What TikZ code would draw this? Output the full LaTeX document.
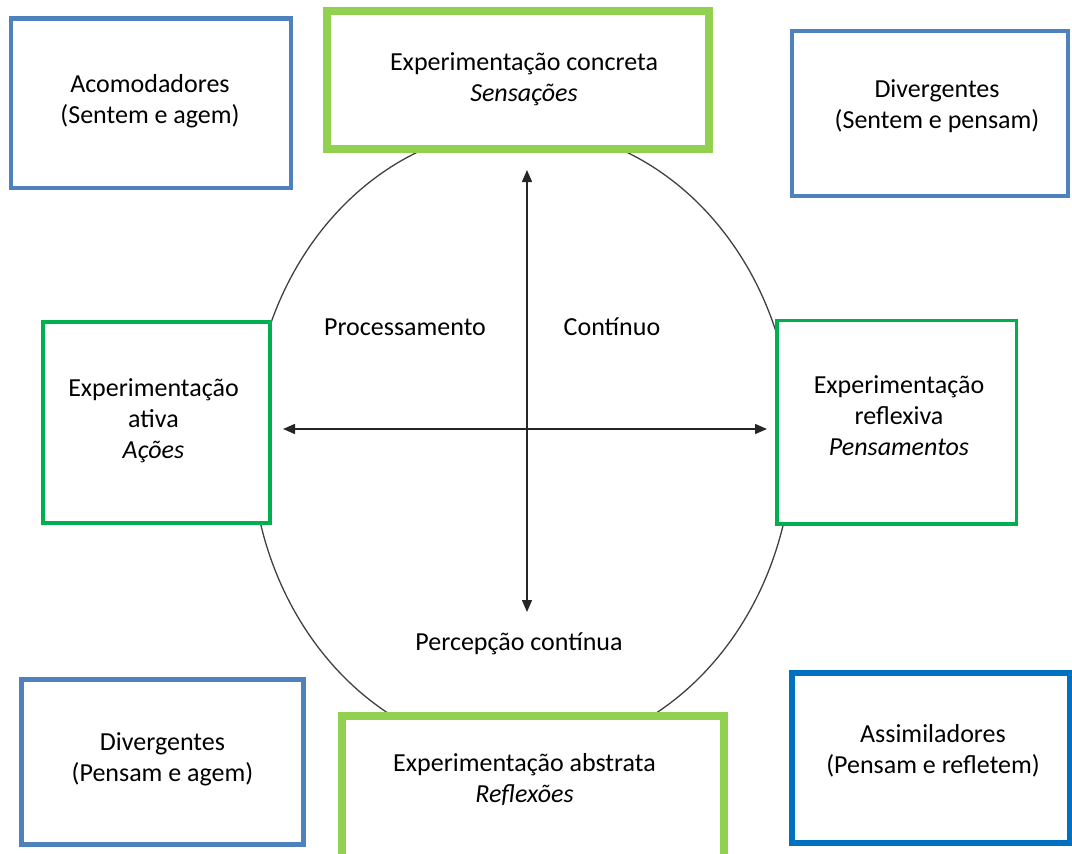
\documentclass[tikz,border=0pt]{standalone}
\usepackage{fontspec}
\setmainfont{Carlito}
\usetikzlibrary{arrows.meta}
\definecolor{boxblue}{HTML}{4F81BD}
\definecolor{boxdarkblue}{HTML}{0070C0}
\definecolor{boxlightgreen}{HTML}{92D050}
\definecolor{boxgreen}{HTML}{00B050}
\begin{document}
\begin{tikzpicture}[x=1pt,y=-1pt,
    every node/.style={font=\fontsize{26}{31}\selectfont,align=center},
    box/.style={fill=white,rectangle,inner sep=0pt},
    bluebox/.style={box,draw=boxblue,line width=4.5pt},
    darkbluebox/.style={box,draw=boxdarkblue,line width=5.5pt},
    widegreenbox/.style={box,draw=boxlightgreen,line width=8pt},
    greenbox/.style={box,draw=boxgreen,line width=3.5pt},
    axis/.style={black!85,line width=1.5pt,{Triangle[length=12pt,width=10pt]}-{Triangle[length=12pt,width=10pt]}}]
                        \useasboundingbox (0,0) rectangle (1072,854);
                        \clip (0,0) rectangle (1072,854);

                        % Cycle
                        \draw[black!75,line width=1.3pt] (522,441) ellipse [x radius=271,y radius=313];

                        % Axes
                        \coordinate (vtop) at (527,170);
                        \coordinate (vbot) at (527,612);
                        \coordinate (hleft) at (283,429);
                        \coordinate (hright) at (767,429);
                        \draw[axis] (vtop) -- (vbot);
                        \draw[axis] (hleft) -- (hright);
                        \node[anchor=base] (processamento) at (405,335) {Processamento};
                        \node[anchor=base] (continuo) at (612,335) {Contínuo};
                        \node[anchor=base] (percepcao) at (519,650) {Percepção contínua};

                        % Modes of experimentation
                        \node[widegreenbox,minimum width=381.5pt,minimum height=137.5pt] (concreta) at (518,80) {};
                        \node (concretaTxt) at (524,79) {Experimentação concreta\\\textit{Sensações}};
                        \node[widegreenbox,minimum width=382pt,minimum height=154pt] (abstrata) at (532.5,793) {};
                        \node (abstrataTxt) at (524.5,779) {Experimentação abstrata\\\textit{Reflexões}};
                        \node[greenbox,minimum width=227pt,minimum height=201pt] (ativa) at (156.5,422.5) {};
                        \node (ativaTxt) at (153.5,421) {Experimentação\\ativa\\\textit{Ações}};
                        \node[greenbox,minimum width=239.5pt,minimum height=203.5pt] (reflexiva) at (896.75,422.25) {};
                        \node (reflexivaTxt) at (899,416) {Experimentação\\reflexiva\\\textit{Pensamentos}};

                        % Learning styles
                        \node[bluebox,minimum width=280pt,minimum height=169.5pt] (acomodadores) at (151,103.25) {};
                        \node (acomodadoresTxt) at (150,101.5) {Acomodadores\\(Sentem e agem)};
                        \node[bluebox,minimum width=276pt,minimum height=165pt] (divergentesA) at (930,113.5) {};
                        \node (divergentesATxt) at (937,106.5) {Divergentes\\(Sentem e pensam)};
                        \node[bluebox,minimum width=282pt,minimum height=165pt] (divergentesB) at (162.5,762) {};
                        \node (divergentesBTxt) at (162.5,759) {Divergentes\\(Pensam e agem)};
                        \node[darkbluebox,minimum width=278pt,minimum height=170pt] (assimiladores) at (931,758) {};
                        \node (assimiladoresTxt) at (933,751) {Assimiladores\\(Pensam e refletem)};
\end{tikzpicture}
\end{document}
